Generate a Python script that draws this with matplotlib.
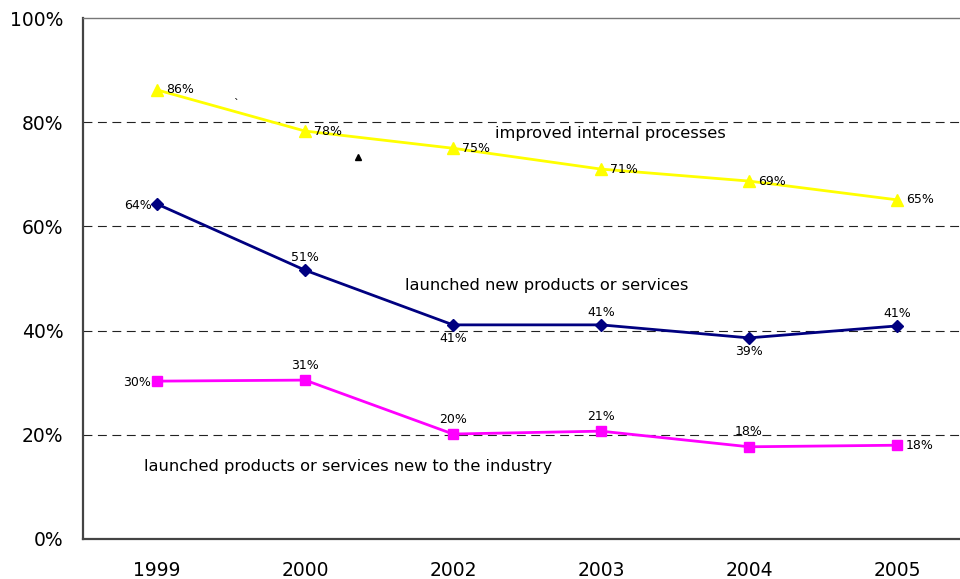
import matplotlib
matplotlib.use("Agg")
import matplotlib.pyplot as plt
from matplotlib.ticker import FuncFormatter

years = ["1999", "2000", "2002", "2003", "2004", "2005"]
improved = [0.862, 0.783, 0.750, 0.710, 0.687, 0.651]
new_products = [0.643, 0.516, 0.411, 0.411, 0.386, 0.409]
new_to_industry = [0.303, 0.305, 0.2015, 0.207, 0.177, 0.180]

improved_labels = ["86%", "78%", "75%", "71%", "69%", "65%"]
new_products_labels = ["64%", "51%", "41%", "41%", "39%", "41%"]
new_industry_labels = ["30%", "31%", "20%", "21%", "18%", "18%"]

plt.rcParams['font.family'] = ['DejaVu Sans']

fig = plt.figure(figsize=(9.6, 5.79), dpi=100)
ax = fig.add_axes([83/960, 40/579, 888/960, 521/579])

x = list(range(len(years)))

ax.plot(x, improved, color="#FFFF00", lw=2.0, marker="^", ms=8.5, zorder=3)
ax.plot(x, new_products, color="#000080", lw=2.0, marker="D", ms=6.5, zorder=3)
ax.plot(x, new_to_industry, color="#FF00FF", lw=2.0, marker="s", ms=7, zorder=3)

ax.set_xlim(-0.5, 5.5)
ax.set_ylim(0, 1.0)
ax.set_yticks([0, 0.2, 0.4, 0.6, 0.8, 1.0])
ax.yaxis.set_major_formatter(FuncFormatter(lambda v, p: f"{round(v*100)}%"))
ax.set_xticks(x)
ax.set_xticklabels(years)
ax.tick_params(axis="both", length=0, labelsize=13.5, colors="black")
ax.tick_params(axis="x", pad=16)
ax.tick_params(axis="y", pad=14)

for yv in [0.2, 0.4, 0.6, 0.8]:
    ax.axhline(yv, color="#222222", lw=0.8, dashes=(8, 5), zorder=1)

for s in ["left", "bottom"]:
    ax.spines[s].set_color("#444444")
    ax.spines[s].set_linewidth(1.6)
ax.spines["top"].set_color("#777777")
ax.spines["top"].set_linewidth(1.0)
ax.spines["right"].set_visible(False)

fs = 9
def lab(xi, yi, t, pos, up=7):
    if pos == "right":
        ax.annotate(t, (xi, yi), xytext=(6.5, 0), textcoords="offset points", ha="left", va="center", fontsize=fs)
    elif pos == "left":
        ax.annotate(t, (xi, yi), xytext=(-4, -1), textcoords="offset points", ha="right", va="center", fontsize=fs)
    elif pos == "above":
        ax.annotate(t, (xi, yi), xytext=(0, up), textcoords="offset points", ha="center", va="bottom", fontsize=fs)
    elif pos == "below":
        ax.annotate(t, (xi, yi), xytext=(0, -5), textcoords="offset points", ha="center", va="top", fontsize=fs)

for i in x:
    lab(i, improved[i], improved_labels[i], "right")

np_pos = ["left", "above", "below", "above", "below", "above"]
for i in x:
    lab(i, new_products[i], new_products_labels[i], np_pos[i], up=4.5)

ni_pos = ["left", "above", "above", "above", "above", "right"]
for i in x:
    lab(i, new_to_industry[i], new_industry_labels[i], ni_pos[i], up=6)

ax.text(2.284, 0.779, "improved internal processes", fontsize=11.7, ha="left", va="center")
ax.text(1.676, 0.4875, "launched new products or services", fontsize=11.7, ha="left", va="center")
ax.text(-0.088, 0.140, "launched products or services new to the industry", fontsize=11.7, ha="left", va="center")

# stray marks present in the original
ax.text(0.53, 0.835, "`", fontsize=8, ha="center", va="center")
ax.plot([1.355], [0.733], marker="^", color="black", ms=5, lw=0)

fig.savefig("out.png", dpi=100)
